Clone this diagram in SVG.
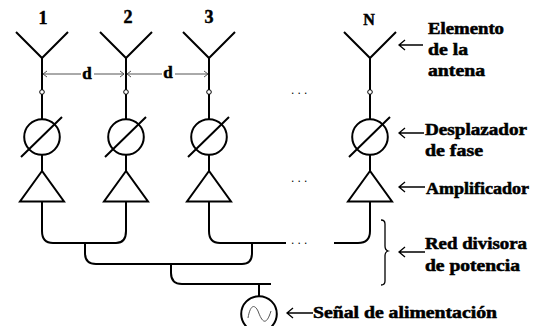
<svg xmlns="http://www.w3.org/2000/svg" width="534" height="326" viewBox="0 0 534 326">
<style>
.k{fill:none;stroke:#000;stroke-width:2}
.w{fill:#fff;stroke:#000;stroke-width:2}
.a{fill:none;stroke:#000;stroke-width:1.3}
.g{fill:none;stroke:#555;stroke-width:1}
.t{font-family:"Liberation Serif",serif;font-weight:bold;font-size:17px;fill:#000;stroke:#000;stroke-width:.55}
.n{font-family:"Liberation Serif",serif;font-weight:bold;font-size:18px;fill:#000;stroke:#000;stroke-width:.5;text-anchor:middle}
.d{font-family:"Liberation Sans",sans-serif;font-size:12px;fill:#000;letter-spacing:3.2px}
</style>
<defs>
<g id="ant"><path class="k" d="M-26 32L0 58L26 32M0 58V119"/><circle cx="0" cy="92" r="2.3" fill="#fff" stroke="#000" stroke-width="1"/><circle class="w" cx="0" cy="137" r="17.8"/><path class="k" d="M-21 157L20 117M0 155V171"/><path class="w" d="M0 171L-22 201.5H22Z"/></g>
</defs>
<g id="connectors">
<path class="k" d="M42 202V231Q42 243 53 243H116Q126 243 126 231V202"/>
<path class="k" d="M209 202V231Q209 243 220 243H286"/>
<path class="k" d="M334 243H358Q370 243 370 231V202"/>
<path class="k" d="M85 243V253Q85 264 96 264H242Q252 264 252 253V243"/>
<path class="k" d="M171 264V273Q171 284 182 284H271"/>
<path class="k" d="M259 284V297"/>
<path class="g" d="M43 74H124M47 71L43 74L47 77M120 71L124 74L120 77M127 74H208M131 71L127 74L131 77M204 71L208 74L204 77"/>
<path class="a" d="M399 45H423M405 40L399 45L405 50M399 133H424M405 128L399 133L405 138M399 187H425M405 182L399 187L405 192M399 252H425M405 247L399 252L405 257M287 313H313M293 308L287 313L293 318"/>
<path class="a" d="M381 220Q385 220 385 224V246Q385 250 388 251Q385 252 385 256V281Q385 285 381 285"/>
</g>
<g id="node-1"><use href="#ant" x="42"/><text class="n" x="43" y="24">1</text></g>
<g id="node-2"><use href="#ant" x="126"/><text class="n" x="128" y="23">2</text></g>
<g id="node-3"><use href="#ant" x="209"/><text class="n" x="209" y="23">3</text></g>
<g id="node-n"><use href="#ant" x="370"/><text class="n" x="369" y="25" style="font-size:16px">N</text></g>
<g id="source"><circle class="k" cx="259" cy="314" r="17.8"/><path d="M248 318C250 306 254 303 258 311C262 322 266 327 271 311" fill="none" stroke="#555"/></g>
<g id="labels">
<rect x="81" y="66" width="13" height="15" fill="#fff"/><rect x="162" y="66" width="13" height="15" fill="#fff"/>
<text class="t" x="87" y="79" text-anchor="middle">d</text>
<text class="t" x="168" y="78" text-anchor="middle">d</text>
<text class="d" x="291" y="94">...</text><text class="d" x="291" y="182">...</text><text class="d" x="291" y="244">...</text>
<text class="t" x="428" y="34" textLength="76" lengthAdjust="spacingAndGlyphs">Elemento</text>
<text class="t" x="428" y="55" textLength="40" lengthAdjust="spacingAndGlyphs">de la</text>
<text class="t" x="428" y="76" textLength="57" lengthAdjust="spacingAndGlyphs">antena</text>
<text class="t" x="425" y="135" textLength="102" lengthAdjust="spacingAndGlyphs">Desplazador</text>
<text class="t" x="425" y="156" textLength="58" lengthAdjust="spacingAndGlyphs">de fase</text>
<text class="t" x="426" y="194" textLength="103" lengthAdjust="spacingAndGlyphs">Amplificador</text>
<text class="t" x="425" y="249" textLength="102" lengthAdjust="spacingAndGlyphs">Red divisora</text>
<text class="t" x="425" y="271" textLength="95" lengthAdjust="spacingAndGlyphs">de potencia</text>
<text class="t" x="313" y="318" textLength="184" lengthAdjust="spacingAndGlyphs">Señal de alimentación</text>
</g>
</svg>
